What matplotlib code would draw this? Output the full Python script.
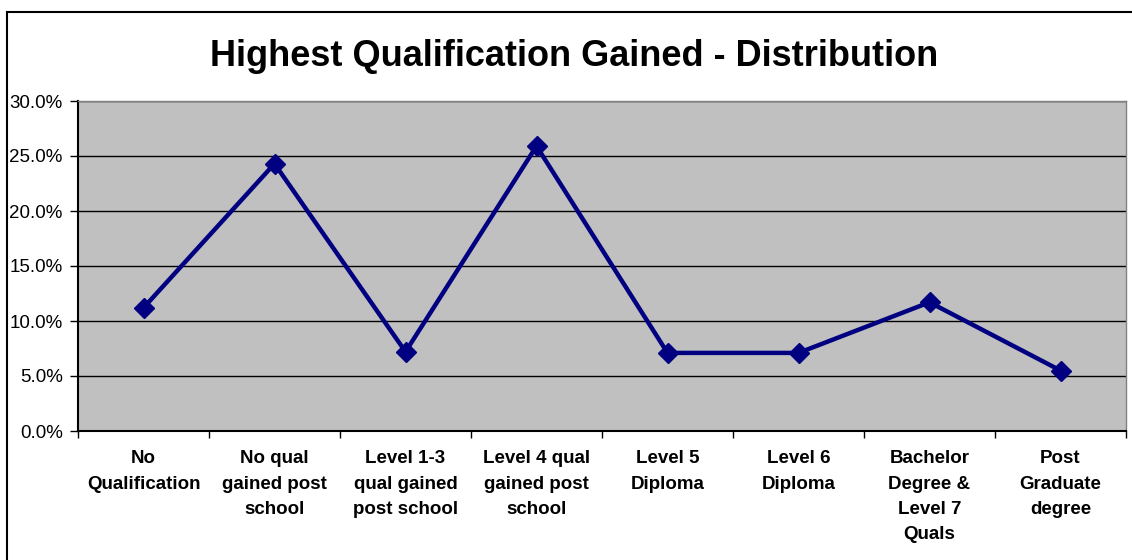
import matplotlib
matplotlib.use("Agg")
import matplotlib.pyplot as plt
from matplotlib.patches import Rectangle
from matplotlib.ticker import FixedLocator, PercentFormatter

categories = [
    "No\nQualification",
    "No qual\ngained post\nschool",
    "Level 1-3\nqual gained\npost school",
    "Level 4 qual\ngained post\nschool",
    "Level 5\nDiploma",
    "Level 6\nDiploma",
    "Bachelor\nDegree &\nLevel 7\nQuals",
    "Post\nGraduate\ndegree",
]
values = [11.2, 24.3, 7.2, 25.9, 7.1, 7.1, 11.7, 5.5]
yticks = [0, 5, 10, 15, 20, 25, 30]
title = "Highest Qualification Gained - Distribution"

plt.rcParams['font.family'] = ['Liberation Sans', 'DejaVu Sans']

W, H = 1132, 560
fig = plt.figure(figsize=(W / 100, H / 100), dpi=100)
fig.patch.set_facecolor("white")

# outer chart border
fig.patches.append(Rectangle((6.5 / W, -0.05), 1.2, 1 - 11.5 / H + 0.05,
                             transform=fig.transFigure, fill=False,
                             edgecolor="black", linewidth=1.5))

left, right, top, bottom = 78, 1126, 101, 431
ax = fig.add_axes([left / W, 1 - bottom / H, (right - left) / W, (bottom - top) / H])
ax.set_facecolor("#C0C0C0")

x = list(range(len(values)))
ax.plot(x, values, color="#000080", linewidth=3.2, marker="D", markersize=10.5,
        markerfacecolor="#000080", markeredgecolor="#000080", zorder=3)

ax.set_xlim(-0.5, len(values) - 0.5)
ax.set_ylim(0, 30)
ax.set_yticks(yticks)
ax.yaxis.set_major_formatter(PercentFormatter(decimals=1))
ax.grid(axis="y", color="black", linewidth=1.0)
ax.set_axisbelow(True)

ax.set_xticks(x)
ax.set_xticklabels(categories, fontsize=13.5, fontweight="bold", linespacing=1.62)
ax.xaxis.set_minor_locator(FixedLocator([i - 0.5 for i in range(len(values) + 1)]))
ax.tick_params(axis="x", which="major", length=0, pad=14)
ax.tick_params(axis="x", which="minor", length=5, width=1, color="black", direction="out")
ax.tick_params(axis="y", labelsize=13.5, length=6, width=1, direction="out", pad=5)

for s in ["left", "bottom"]:
    ax.spines[s].set_color("black")
    ax.spines[s].set_linewidth(1.5)
for s in ["top", "right"]:
    ax.spines[s].set_color("#808080")
    ax.spines[s].set_linewidth(1.0)

fig.text(574 / W, 1 - 56 / H, title, ha="center", va="center",
         fontsize=26, fontweight="bold")

fig.savefig("out.png", dpi=100)
